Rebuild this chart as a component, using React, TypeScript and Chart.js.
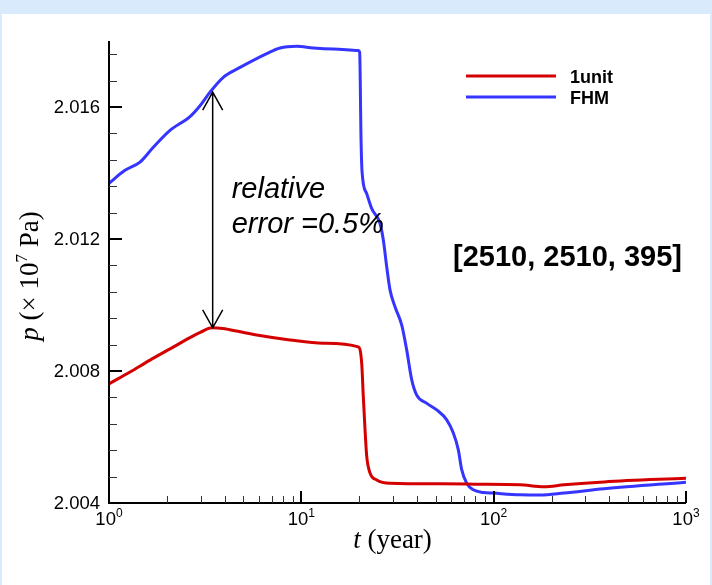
import React, { useEffect, useRef } from 'react';
import { Chart, registerables } from 'chart.js';

Chart.register(...registerables);

// ---------- data ----------
const seriesLabels = ['1unit', 'FHM'];
const seriesColors = ['#d40000', '#3535ff'];

const redT = [1, 1.286, 1.634, 2.076, 2.637, 3.0, 3.42, 3.9, 4.26, 5.86, 8.73, 13.0, 19.79, 20.6, 21.0, 21.44, 21.88, 22.76, 24.66, 28.93, 52.6, 80, 137, 183, 232, 375, 1000];
const redP = [2.00761, 2.00797, 2.00833, 2.00867, 2.00901, 2.00918, 2.00931, 2.00929, 2.00925, 2.00909, 2.00894, 2.00884, 2.00873, 2.00823, 2.00722, 2.00622, 2.00541, 2.00491, 2.0047, 2.0046, 2.00458, 2.00457, 2.00455, 2.00449, 2.00455, 2.00464, 2.00475];

const blueT = [1, 1.211, 1.449, 1.70, 2.076, 2.637, 2.973, 3.351, 3.93, 4.80, 6.61, 7.75, 9.46, 11.54, 14.67, 19.79, 20.1, 20.44, 20.68, 21.88, 23.23, 25.66, 26.70, 27.8, 28.93, 30.72, 33.27, 35.3, 37.5, 39.8, 44.9, 50.6, 57.0, 61.7, 65.5, 68.2, 72.4, 78.4, 88.4, 99.6, 137, 174, 232, 375, 1000];
const blueP = [2.01369, 2.01408, 2.01433, 2.01478, 2.01529, 2.01571, 2.01604, 2.01645, 2.0169, 2.0172, 2.01762, 2.01779, 2.01784, 2.01779, 2.01776, 2.01771, 2.01766, 2.0150, 2.01405, 2.01337, 2.01292, 2.01247, 2.01196, 2.01115, 2.01045, 2.00994, 2.00939, 2.00864, 2.00773, 2.00727, 2.00702, 2.00682, 2.00652, 2.00612, 2.00561, 2.00501, 2.0046, 2.0044, 2.00432, 2.0043, 2.00425, 2.00424, 2.0043, 2.00443, 2.00463];

const yMin = 2.004;
const yMax = 2.018;
const yMajorTicks = [2.004, 2.008, 2.012, 2.016];
const yTickLabels = ['2.004', '2.008', '2.012', '2.016'];
const yMinorTicks = [2.0048, 2.0056, 2.0064, 2.0072, 2.0088, 2.0096, 2.0104, 2.0112, 2.0128, 2.0136, 2.0144, 2.0152, 2.0168, 2.0176];

const xMin = 1;
const xMax = 1000;
const xMajorTicks = [1, 10, 100, 1000];
const xTickExponents = ['0', '1', '2', '3'];
const xMinorTicks = [2, 3, 4, 5, 6, 7, 8, 9, 20, 30, 40, 50, 60, 70, 80, 90, 200, 300, 400, 500, 600, 700, 800, 900];

const arrowT = 3.46;
const arrowTop = 2.01645;
const arrowBottom = 2.00931;
const noteLines = ['relative', 'error =0.5%'];
const gridNote = '[2510, 2510, 395]';

// ---------- helpers ----------
type Run = { text: string; font: string; dy?: number };

function runsWidth(ctx: CanvasRenderingContext2D, runs: Run[]) {
  let w = 0;
  for (const r of runs) {
    ctx.font = r.font;
    w += ctx.measureText(r.text).width;
  }
  return w;
}

function drawRuns(ctx: CanvasRenderingContext2D, runs: Run[], x: number, y: number) {
  let cx = x;
  ctx.textAlign = 'left';
  ctx.textBaseline = 'alphabetic';
  for (const r of runs) {
    ctx.font = r.font;
    ctx.fillText(r.text, cx, y + (r.dy || 0));
    cx += ctx.measureText(r.text).width;
  }
}

const SANS = '"Liberation Sans", Arial, Helvetica, sans-serif';
const SERIF = '"Liberation Serif", "Times New Roman", serif';

const decorPlugin = {
  id: 'decor',
  afterDatasetsDraw(chart: any) {
    const { ctx, chartArea: a, scales } = chart;
    const xs = scales.x;
    const ys = scales.y;
    ctx.save();
    ctx.fillStyle = '#000';
    ctx.strokeStyle = '#000';

    // axes lines
    ctx.lineWidth = 2;
    ctx.beginPath();
    ctx.moveTo(a.left, a.top);
    ctx.lineTo(a.left, a.bottom);
    ctx.lineTo(a.right, a.bottom);
    ctx.stroke();

    // y minor ticks
    ctx.lineWidth = 1;
    ctx.strokeStyle = '#333';
    for (const v of yMinorTicks) {
      const py = Math.round(ys.getPixelForValue(v)) + 0.5;
      ctx.beginPath();
      ctx.moveTo(a.left, py);
      ctx.lineTo(a.left + 8, py);
      ctx.stroke();
    }
    // x minor ticks
    for (const v of xMinorTicks) {
      const px = Math.round(xs.getPixelForValue(v)) + 0.5;
      ctx.beginPath();
      ctx.moveTo(px, a.bottom);
      ctx.lineTo(px, a.bottom - 7);
      ctx.stroke();
    }
    // major ticks
    ctx.strokeStyle = '#000';
    ctx.lineWidth = 2;
    for (const v of yMajorTicks) {
      const py = Math.round(ys.getPixelForValue(v));
      ctx.beginPath();
      ctx.moveTo(a.left, py);
      ctx.lineTo(a.left + 13, py);
      ctx.stroke();
    }
    for (const v of xMajorTicks) {
      const px = Math.round(xs.getPixelForValue(v));
      ctx.beginPath();
      ctx.moveTo(px, a.bottom);
      ctx.lineTo(px, a.bottom - 12);
      ctx.stroke();
    }

    // y tick labels
    ctx.font = `18.5px ${SANS}`;
    ctx.textAlign = 'right';
    ctx.textBaseline = 'middle';
    yMajorTicks.forEach((v, i) => {
      ctx.fillText(yTickLabels[i], a.left - 9, ys.getPixelForValue(v) + 1);
    });

    // x tick labels with superscripts
    xMajorTicks.forEach((v, i) => {
      const runs: Run[] = [
        { text: '10', font: `18.5px ${SANS}` },
        { text: xTickExponents[i], font: `12px ${SANS}`, dy: -8 },
      ];
      const w = runsWidth(ctx, runs);
      drawRuns(ctx, runs, xs.getPixelForValue(v) - w / 2, a.bottom + 22);
    });

    // x title
    {
      const runs: Run[] = [
        { text: 't', font: `italic 27px ${SERIF}` },
        { text: ' (year)', font: `27px ${SERIF}` },
      ];
      const w = runsWidth(ctx, runs);
      drawRuns(ctx, runs, (a.left + a.right) / 2 - 5 - w / 2, 548);
    }

    // y title (rotated)
    {
      const runs: Run[] = [
        { text: 'p', font: `italic 27px ${SERIF}` },
        { text: ' (\u00d7 10', font: `27px ${SERIF}` },
        { text: '7', font: `17px ${SERIF}`, dy: -11 },
        { text: ' Pa)', font: `27px ${SERIF}` },
      ];
      const w = runsWidth(ctx, runs);
      ctx.save();
      ctx.translate(38, (a.top + a.bottom) / 2 + 4);
      ctx.rotate(-Math.PI / 2);
      drawRuns(ctx, runs, -w / 2, 0);
      ctx.restore();
    }

    // double arrow
    {
      const ax = xs.getPixelForValue(arrowT);
      const yt = ys.getPixelForValue(arrowTop);
      const yb = ys.getPixelForValue(arrowBottom);
      ctx.lineWidth = 1.5;
      ctx.strokeStyle = '#000';
      ctx.beginPath();
      ctx.moveTo(ax, yt);
      ctx.lineTo(ax, yb);
      ctx.moveTo(ax - 10, yt + 18);
      ctx.lineTo(ax, yt);
      ctx.lineTo(ax + 10, yt + 18);
      ctx.moveTo(ax - 10, yb - 18);
      ctx.lineTo(ax, yb);
      ctx.lineTo(ax + 10, yb - 18);
      ctx.stroke();

      ctx.fillStyle = '#000';
      ctx.font = `italic 29px ${SANS}`;
      ctx.textAlign = 'left';
      ctx.textBaseline = 'alphabetic';
      ctx.fillText(noteLines[0], ax + 19, 198);
      ctx.fillText(noteLines[1], ax + 19, 233);
    }

    // grid note
    ctx.font = `bold 29px ${SANS}`;
    ctx.textAlign = 'left';
    ctx.textBaseline = 'alphabetic';
    ctx.fillText(gridNote, 453, 266);

    // legend
    chart.data.datasets.forEach((ds: any, i: number) => {
      const ly = 76 + i * 21;
      ctx.strokeStyle = ds.borderColor;
      ctx.lineWidth = 3;
      ctx.beginPath();
      ctx.moveTo(466, ly);
      ctx.lineTo(556, ly);
      ctx.stroke();
      ctx.fillStyle = '#000';
      ctx.font = `bold 18px ${SANS}`;
      ctx.textAlign = 'left';
      ctx.textBaseline = 'alphabetic';
      ctx.fillText(ds.label, 570, ly + 6.5);
    });

    ctx.restore();
  },
};

export default function App() {
  const ref = useRef<HTMLCanvasElement | null>(null);

  useEffect(() => {
    document.body.style.margin = '0';
    const canvas = ref.current;
    if (!canvas) return;
    const chart = new Chart(canvas, {
      type: 'line',
      data: {
        datasets: [
          {
            label: seriesLabels[0],
            data: redT.map((t, i) => ({ x: t, y: redP[i] })),
            borderColor: seriesColors[0],
            borderWidth: 3,
            pointRadius: 0,
            cubicInterpolationMode: 'monotone',
            fill: false,
          },
          {
            label: seriesLabels[1],
            data: blueT.map((t, i) => ({ x: t, y: blueP[i] })),
            borderColor: seriesColors[1],
            borderWidth: 3,
            pointRadius: 0,
            cubicInterpolationMode: 'monotone',
            fill: false,
          },
        ],
      },
      options: {
        animation: false,
        responsive: false,
        maintainAspectRatio: false,
        devicePixelRatio: 1,
        events: [],
        layout: { padding: { left: 109, right: 26, top: 41, bottom: 82 } },
        scales: {
          x: { type: 'logarithmic', min: xMin, max: xMax, display: false },
          y: { type: 'linear', min: yMin, max: yMax, display: false },
        },
        plugins: {
          legend: { display: false },
          tooltip: { enabled: false },
        },
      } as any,
      plugins: [decorPlugin],
    });
    return () => chart.destroy();
  }, []);

  return (
    <div style={{ position: 'fixed', left: 0, top: 0, width: 712, height: 585, background: '#d9eafd', overflow: 'hidden' }}>
      <div style={{ position: 'absolute', left: 2, top: 14, right: 2, bottom: 0, background: '#ffffff' }} />
      <canvas ref={ref} width={712} height={585} style={{ position: 'absolute', left: 0, top: 0, width: 712, height: 585, display: 'block' }} />
    </div>
  );
}
